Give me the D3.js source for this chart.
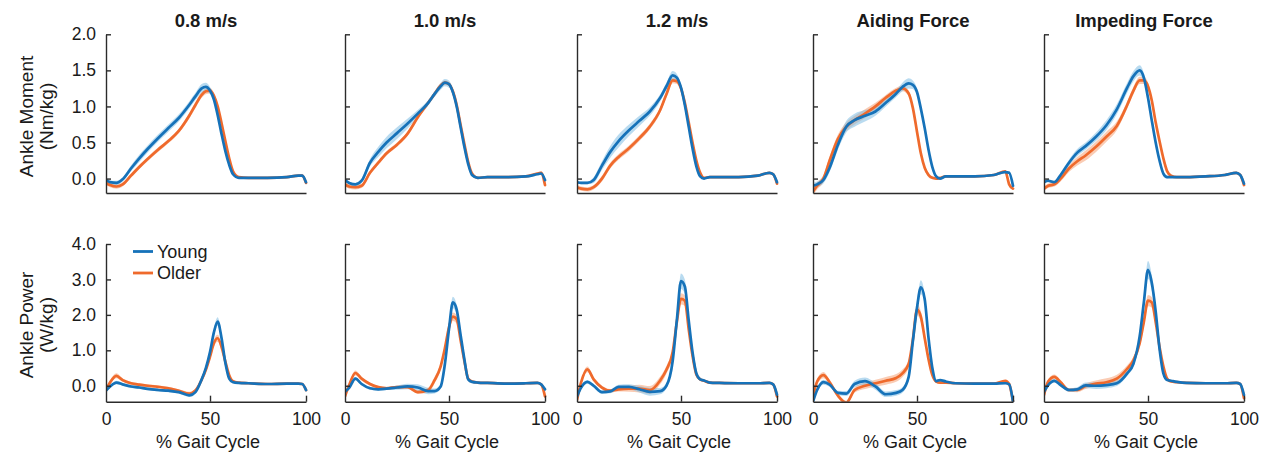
<!DOCTYPE html>
<html><head><meta charset="utf-8">
<script src="https://cdn.jsdelivr.net/npm/d3@7"></script>
<style>
body{margin:0;background:#fff}
svg text{font-family:"Liberation Sans",Arial,Helvetica,sans-serif;fill:#1a1a1a}
</style>
</head><body>
<svg id="chart" width="1270" height="457"></svg>
<script>
// ---------- data ----------
const conditions = ["0.8 m/s", "1.0 m/s", "1.2 m/s", "Aiding Force", "Impeding Force"];
const groups = ["Young", "Older"];
const momentTicks = [0, 0.5, 1.0, 1.5, 2.0];
const powerTicks = [0, 1, 2, 3, 4];
const gaitTicks = [0, 50, 100];
const gaitPct = [0,2,5,8,12,16,20,25,30,35,40,43,46,48,50,52,54,56,58,60,62,65,70,80,90,96,98,100];

// Ankle moment (Nm/kg), mean
const m08Young  = [-0.02,-0.05,-0.06,-0.01,0.14,0.28,0.41,0.56,0.70,0.84,1.02,1.14,1.25,1.27,1.22,1.10,0.88,0.62,0.38,0.19,0.06,0.01,0.01,0.01,0.02,0.04,0.04,-0.05];
const m08Older  = [-0.06,-0.09,-0.11,-0.08,0.04,0.16,0.27,0.40,0.52,0.66,0.87,1.02,1.16,1.21,1.22,1.15,1.00,0.77,0.52,0.28,0.10,0.02,0.01,0.01,0.02,0.04,0.04,-0.06];
const m10Young  = [-0.02,-0.06,-0.08,-0.03,0.22,0.37,0.50,0.63,0.76,0.90,1.05,1.17,1.28,1.33,1.31,1.20,1.00,0.72,0.44,0.20,0.05,0.01,0.02,0.02,0.03,0.06,0.07,-0.02];
const m10Older  = [-0.08,-0.11,-0.12,-0.10,0.08,0.22,0.35,0.47,0.62,0.85,1.05,1.17,1.29,1.33,1.31,1.21,1.02,0.75,0.48,0.23,0.07,0.01,0.02,0.02,0.03,0.07,0.08,-0.09];
const m12Young  = [-0.05,-0.06,-0.06,-0.02,0.18,0.37,0.52,0.67,0.80,0.93,1.12,1.28,1.43,1.40,1.26,1.02,0.72,0.42,0.17,0.03,0.00,0.02,0.02,0.02,0.04,0.08,0.06,-0.05];
const m12Older  = [-0.12,-0.14,-0.15,-0.12,0.00,0.18,0.30,0.42,0.56,0.72,0.95,1.17,1.36,1.35,1.25,1.05,0.78,0.50,0.25,0.08,0.01,0.02,0.02,0.02,0.04,0.08,0.06,-0.07];
const mAidYoung = [-0.10,-0.08,-0.02,0.15,0.47,0.72,0.81,0.87,0.93,1.05,1.18,1.27,1.32,1.30,1.20,0.97,0.70,0.40,0.16,0.03,0.00,0.03,0.03,0.03,0.05,0.09,0.08,-0.10];
const mAidOlder = [-0.18,-0.10,0.00,0.25,0.55,0.72,0.81,0.90,1.00,1.12,1.22,1.25,1.18,0.98,0.65,0.35,0.15,0.05,0.01,0.00,0.01,0.03,0.03,0.03,0.05,0.10,-0.08,-0.14];
const mImpYoung = [-0.05,-0.03,-0.05,0.05,0.22,0.36,0.45,0.58,0.74,0.96,1.26,1.42,1.50,1.40,1.12,0.80,0.50,0.25,0.07,0.02,0.02,0.02,0.02,0.03,0.05,0.08,0.05,-0.07];
const mImpOlder = [-0.14,-0.10,-0.08,0.00,0.14,0.24,0.32,0.44,0.58,0.73,1.02,1.22,1.36,1.36,1.28,1.08,0.78,0.52,0.28,0.10,0.04,0.02,0.02,0.03,0.05,0.08,0.05,-0.09];

// Ankle moment, spread (band half-width)
const m08YoungSd  = [0.02,0.02,0.03,0.03,0.04,0.05,0.05,0.05,0.05,0.05,0.05,0.05,0.06,0.06,0.05,0.04,0.04,0.03,0.03,0.02,0.01,0.01,0.01,0.01,0.01,0.01,0.02,0.02];
const m08OlderSd  = [0.03,0.03,0.03,0.03,0.03,0.03,0.03,0.03,0.03,0.03,0.04,0.04,0.04,0.04,0.04,0.04,0.04,0.03,0.03,0.02,0.01,0.01,0.01,0.01,0.01,0.01,0.02,0.02];
const m10YoungSd  = [0.02,0.02,0.02,0.03,0.05,0.07,0.08,0.08,0.07,0.05,0.04,0.04,0.05,0.05,0.05,0.04,0.04,0.03,0.03,0.02,0.01,0.01,0.01,0.01,0.01,0.01,0.02,0.02];
const m10OlderSd  = [0.03,0.03,0.03,0.03,0.03,0.03,0.03,0.03,0.03,0.03,0.03,0.03,0.03,0.03,0.03,0.03,0.03,0.03,0.02,0.02,0.01,0.01,0.01,0.01,0.01,0.01,0.02,0.02];
const m12YoungSd  = [0.02,0.02,0.02,0.04,0.06,0.08,0.09,0.08,0.07,0.06,0.05,0.05,0.06,0.05,0.05,0.04,0.04,0.03,0.03,0.02,0.01,0.01,0.01,0.01,0.01,0.01,0.02,0.02];
const m12OlderSd  = [0.03,0.03,0.03,0.03,0.04,0.04,0.04,0.04,0.04,0.04,0.04,0.04,0.04,0.04,0.04,0.04,0.04,0.03,0.03,0.02,0.01,0.01,0.01,0.01,0.01,0.01,0.02,0.02];
const mAidYoungSd = [0.04,0.04,0.05,0.06,0.07,0.08,0.09,0.08,0.06,0.05,0.05,0.06,0.07,0.06,0.05,0.04,0.04,0.03,0.03,0.02,0.01,0.01,0.01,0.01,0.01,0.01,0.02,0.02];
const mAidOlderSd = [0.05,0.05,0.05,0.06,0.06,0.06,0.06,0.06,0.05,0.04,0.04,0.04,0.04,0.04,0.04,0.03,0.03,0.03,0.02,0.02,0.01,0.01,0.01,0.01,0.01,0.01,0.02,0.02];
const mImpYoungSd = [0.02,0.02,0.02,0.03,0.04,0.05,0.05,0.06,0.07,0.07,0.07,0.07,0.07,0.06,0.05,0.04,0.04,0.03,0.03,0.02,0.01,0.01,0.01,0.01,0.01,0.01,0.02,0.02];
const mImpOlderSd = [0.03,0.03,0.03,0.04,0.05,0.06,0.07,0.07,0.07,0.06,0.05,0.05,0.05,0.05,0.05,0.04,0.04,0.03,0.03,0.02,0.01,0.01,0.01,0.01,0.01,0.01,0.02,0.02];

// Ankle power (W/kg), mean
const p08Young  = [-0.14,-0.02,0.09,0.04,-0.02,-0.05,-0.09,-0.12,-0.14,-0.18,-0.27,-0.18,0.18,0.50,0.95,1.50,1.81,1.35,0.65,0.20,0.10,0.08,0.07,0.05,0.06,0.06,0.05,-0.12];
const p08Older  = [-0.12,0.10,0.28,0.16,0.07,0.03,0.00,-0.03,-0.07,-0.14,-0.22,-0.13,0.17,0.45,0.82,1.20,1.34,1.10,0.68,0.30,0.13,0.09,0.07,0.05,0.06,0.06,0.05,-0.12];
const p10Young  = [-0.17,-0.06,0.20,0.05,-0.07,-0.10,-0.08,-0.05,-0.02,-0.05,-0.15,-0.15,-0.02,0.60,1.60,2.35,2.15,1.45,0.75,0.18,0.11,0.09,0.08,0.06,0.07,0.08,0.04,-0.10];
const p10Older  = [-0.30,0.02,0.36,0.20,0.05,-0.04,-0.07,-0.04,-0.04,-0.18,-0.12,0.15,0.55,1.05,1.65,1.95,1.88,1.30,0.70,0.20,0.12,0.09,0.08,0.06,0.07,0.08,0.04,-0.30];
const p12Young  = [-0.30,-0.05,0.11,0.00,-0.18,-0.16,-0.03,-0.03,-0.10,-0.17,-0.15,0.00,0.70,1.85,2.95,2.80,1.85,0.95,0.35,0.18,0.15,0.09,0.08,0.07,0.07,0.08,0.04,-0.25];
const p12Older  = [-0.40,0.10,0.46,0.18,-0.05,-0.14,-0.10,-0.08,-0.08,-0.12,0.15,0.45,0.95,1.80,2.45,2.40,1.60,0.85,0.32,0.18,0.14,0.09,0.08,0.07,0.07,0.08,0.04,-0.30];
const pAidYoung = [-0.45,-0.12,0.10,0.03,-0.20,-0.22,0.05,0.13,-0.02,-0.24,-0.20,-0.12,0.25,1.25,2.20,2.78,2.45,1.35,0.50,0.13,0.16,0.12,0.07,0.06,0.06,0.07,0.04,-0.45];
const pAidOlder = [-0.31,0.12,0.30,0.10,-0.28,-0.48,-0.12,0.00,0.07,0.14,0.22,0.35,0.62,1.30,2.15,1.95,1.35,0.75,0.30,0.12,0.09,0.09,0.07,0.06,0.06,0.14,0.05,-0.45];
const pImpYoung = [-0.17,0.02,0.14,0.02,-0.12,-0.10,0.01,0.00,0.02,0.07,0.35,0.62,1.40,2.35,3.27,2.90,2.10,1.05,0.35,0.16,0.14,0.11,0.08,0.07,0.07,0.08,0.05,-0.26];
const pImpOlder = [-0.26,0.12,0.25,0.10,-0.12,-0.12,-0.01,0.06,0.10,0.20,0.48,0.72,1.20,1.80,2.40,2.35,1.80,1.10,0.55,0.20,0.12,0.10,0.08,0.07,0.07,0.08,0.05,-0.35];

// Ankle power, spread (band half-width)
const p08YoungSd  = [0.04,0.04,0.05,0.04,0.04,0.04,0.04,0.04,0.04,0.04,0.05,0.05,0.06,0.08,0.10,0.12,0.12,0.10,0.06,0.03,0.02,0.02,0.02,0.02,0.02,0.02,0.02,0.03];
const p08OlderSd  = [0.05,0.06,0.07,0.05,0.04,0.04,0.04,0.04,0.04,0.04,0.05,0.05,0.06,0.08,0.10,0.10,0.10,0.08,0.06,0.04,0.03,0.02,0.02,0.02,0.02,0.02,0.02,0.03];
const p10YoungSd  = [0.04,0.04,0.05,0.04,0.04,0.04,0.04,0.06,0.08,0.09,0.09,0.07,0.06,0.10,0.14,0.16,0.14,0.10,0.06,0.03,0.02,0.02,0.02,0.02,0.02,0.02,0.02,0.03];
const p10OlderSd  = [0.05,0.06,0.07,0.05,0.04,0.04,0.04,0.04,0.04,0.05,0.07,0.09,0.10,0.10,0.12,0.12,0.12,0.10,0.06,0.04,0.03,0.02,0.02,0.02,0.02,0.02,0.02,0.03];
const p12YoungSd  = [0.05,0.05,0.05,0.05,0.05,0.05,0.06,0.07,0.09,0.11,0.09,0.07,0.10,0.15,0.22,0.20,0.14,0.10,0.06,0.03,0.02,0.02,0.02,0.02,0.02,0.02,0.02,0.03];
const p12OlderSd  = [0.06,0.07,0.08,0.06,0.05,0.05,0.06,0.09,0.11,0.11,0.11,0.11,0.12,0.14,0.16,0.15,0.12,0.10,0.06,0.04,0.03,0.02,0.02,0.02,0.02,0.02,0.02,0.03];
const pAidYoungSd = [0.05,0.06,0.07,0.06,0.06,0.07,0.09,0.10,0.09,0.08,0.08,0.08,0.09,0.14,0.20,0.20,0.14,0.10,0.06,0.04,0.03,0.02,0.02,0.02,0.02,0.02,0.02,0.03];
const pAidOlderSd = [0.06,0.08,0.09,0.07,0.06,0.06,0.07,0.09,0.10,0.11,0.11,0.11,0.10,0.14,0.16,0.15,0.12,0.10,0.06,0.04,0.03,0.02,0.02,0.02,0.02,0.02,0.02,0.03];
const pImpYoungSd = [0.05,0.05,0.05,0.05,0.05,0.06,0.08,0.09,0.09,0.08,0.07,0.08,0.12,0.18,0.25,0.22,0.15,0.10,0.06,0.03,0.02,0.02,0.02,0.02,0.02,0.02,0.02,0.03];
const pImpOlderSd = [0.05,0.06,0.07,0.06,0.05,0.06,0.08,0.09,0.11,0.11,0.10,0.10,0.12,0.14,0.16,0.15,0.12,0.10,0.06,0.04,0.03,0.02,0.02,0.02,0.02,0.02,0.02,0.03];

// ---------- layout & style ----------
const panelLeft = [106, 345, 577, 813, 1044];
const panelSpan = 200, halfSpan = 104;
const colors = { Young: "#1672b9", Older: "#ef6a2c" };
const bandColors = { Young: "#80bde3", Older: "#f6a376" };
const FONT = '"Liberation Sans", Arial, Helvetica, sans-serif';

const rows = [
  { domain: [-0.2, 2.0], range: [193, 34.3], ticks: momentTicks, label: ["Ankle Moment", "(Nm/kg)"], labelY: 116.5, showX: false,
    Young: [m08Young, m10Young, m12Young, mAidYoung, mImpYoung],
    Older: [m08Older, m10Older, m12Older, mAidOlder, mImpOlder],
    YoungSd: [m08YoungSd, m10YoungSd, m12YoungSd, mAidYoungSd, mImpYoungSd],
    OlderSd: [m08OlderSd, m10OlderSd, m12OlderSd, mAidOlderSd, mImpOlderSd] },
  { domain: [-0.45, 4.0], range: [401.7, 244], ticks: powerTicks, label: ["Ankle Power", "(W/kg)"], labelY: 325, showX: true,
    Young: [p08Young, p10Young, p12Young, pAidYoung, pImpYoung],
    Older: [p08Older, p10Older, p12Older, pAidOlder, pImpOlder],
    YoungSd: [p08YoungSd, p10YoungSd, p12YoungSd, pAidYoungSd, pImpYoungSd],
    OlderSd: [p08OlderSd, p10OlderSd, p12OlderSd, pAidOlderSd, pImpOlderSd] }
];

const svg = d3.select("#chart");
const defs = svg.append("defs");
const fmt = d3.format(".1f");

conditions.forEach((cond, i) => {
  const x0 = panelLeft[i];
  const x = d3.scaleLinear().domain([0, 50, 100]).range([x0, x0 + halfSpan, x0 + panelSpan]);

  svg.append("text").attr("x", x0 + 100).attr("y", 27).attr("text-anchor", "middle")
    .attr("font-size", 18.5).attr("font-weight", "bold").text(cond);

  rows.forEach((row, r) => {
    const y = d3.scaleLinear().domain(row.domain).range(row.range);
    const clipId = `clip-${i}-${r}`;
    defs.append("clipPath").attr("id", clipId).append("rect")
      .attr("x", x0).attr("y", row.range[1] - 10)
      .attr("width", panelSpan + 3).attr("height", row.range[0] - row.range[1] + 10);

    const plot = svg.append("g").attr("clip-path", `url(#${clipId})`);
    const order = ["Older", "Young"];
    const seriesOf = g => gaitPct.map((p, k) => ({ p, v: row[g][i][k], s: row[g + "Sd"][i][k] }));

    const area = d3.area().x(d => x(d.p)).y0(d => y(d.v - d.s)).y1(d => y(d.v + d.s)).curve(d3.curveMonotoneX);
    const line = d3.line().x(d => x(d.p)).y(d => y(d.v)).curve(d3.curveMonotoneX);

    order.forEach(g => {
      plot.append("path").datum(seriesOf(g)).attr("d", area)
        .attr("fill", bandColors[g]).attr("fill-opacity", 0.55).attr("stroke", "none");
    });
    order.forEach(g => {
      plot.append("path").datum(seriesOf(g)).attr("d", line)
        .attr("fill", "none").attr("stroke", colors[g]).attr("stroke-width", 2.7)
        .attr("stroke-linejoin", "round").attr("stroke-linecap", "round");
    });

    const ya = svg.append("g").attr("transform", `translate(${x0},0)`)
      .call(d3.axisLeft(y).tickValues(row.ticks).tickSizeInner(-5).tickSizeOuter(0).tickPadding(10)
        .tickFormat(i === 0 ? fmt : () => ""));
    ya.attr("font-family", FONT).attr("font-size", 17.5);
    ya.selectAll("path,line").attr("stroke", "#2b2b2b").attr("stroke-width", 1.4);
    ya.selectAll("text").attr("fill", "#1a1a1a");

    const xa = svg.append("g").attr("transform", `translate(0,${row.range[0]})`)
      .call(d3.axisBottom(x).tickValues(row.showX ? gaitTicks : []).tickSizeInner(-6).tickSizeOuter(0).tickPadding(11)
        .tickFormat(d3.format("d")));
    xa.attr("font-family", FONT).attr("font-size", 17.5);
    xa.selectAll("path,line").attr("stroke", "#2b2b2b").attr("stroke-width", 1.4);
    xa.selectAll(".tick").filter(d => d === 0).select("line").remove();
    xa.selectAll("text").attr("fill", "#1a1a1a");

    if (row.showX) {
      svg.append("text").attr("x", x0 + 102).attr("y", 448).attr("text-anchor", "middle")
        .attr("font-size", 18).text("% Gait Cycle");
    }

    if (i === 0) {
      row.label.forEach((t, k) => {
        svg.append("text").attr("transform", `translate(${33 + k * 20},${row.labelY}) rotate(-90)`)
          .attr("text-anchor", "middle").attr("font-size", 19).text(t);
      });
    }
  });
});

const legend = svg.append("g");
groups.forEach((g, k) => {
  const ly = 251.5 + k * 21.5;
  legend.append("line").attr("x1", 133).attr("x2", 153).attr("y1", ly).attr("y2", ly)
    .attr("stroke", colors[g]).attr("stroke-width", 2.8);
  legend.append("text").attr("x", 157).attr("y", ly).attr("dy", "0.35em")
    .attr("font-size", 18).text(g);
});
</script>
</body></html>
